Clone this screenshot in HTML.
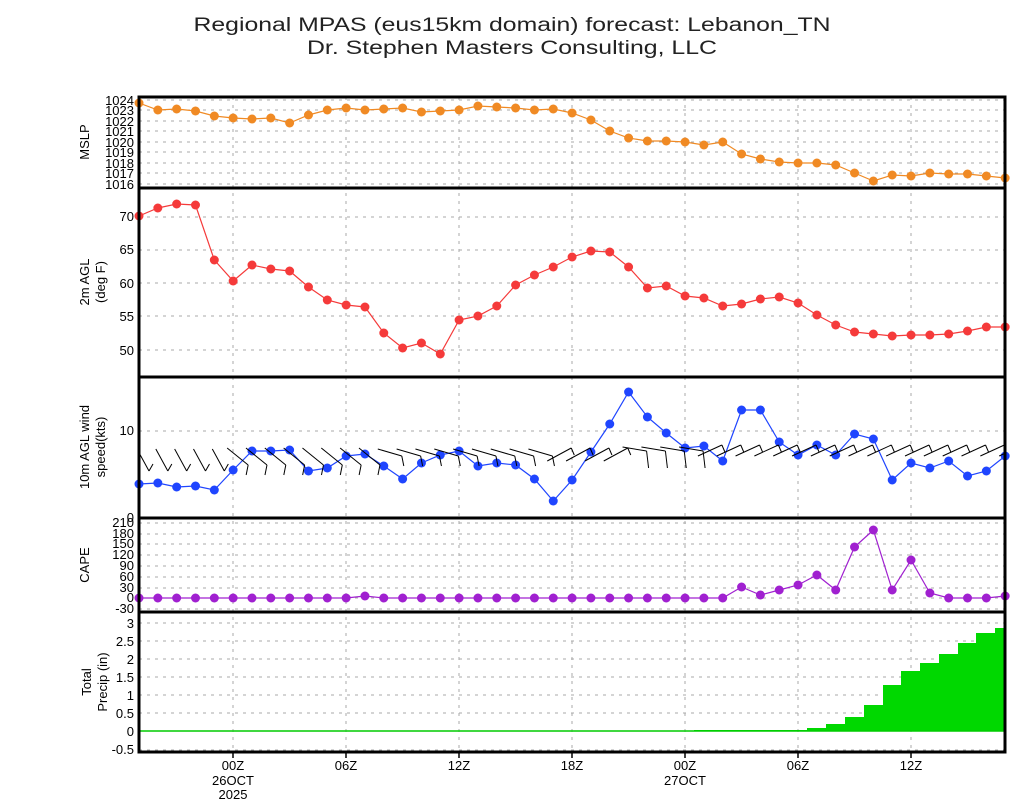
<!DOCTYPE html>
<html><head><meta charset="utf-8"><style>
html,body{margin:0;padding:0;background:#fff;}
svg{display:block;font-family:"Liberation Sans",sans-serif;}
.t{font-size:13px;fill:#000;}
</style></head><body>
<svg id="s" width="1024" height="800" xmlns="http://www.w3.org/2000/svg">
<defs><clipPath id="cp"><rect x="139" y="377" width="866" height="141"/></clipPath></defs>
<rect width="1024" height="800" fill="#fff"/>
<text x="512" y="31" text-anchor="middle" font-size="19" textLength="637" lengthAdjust="spacingAndGlyphs" fill="#222">Regional MPAS (eus15km domain) forecast: Lebanon_TN</text>
<text x="512" y="54" text-anchor="middle" font-size="19" textLength="410" lengthAdjust="spacingAndGlyphs" fill="#222">Dr. Stephen Masters Consulting, LLC</text>
<g id="grid" stroke="#aaa" stroke-dasharray="3,5" stroke-width="1"></g>
<g id="data"></g>
<g id="barbs" clip-path="url(#cp)"></g>
<g fill="none" stroke="#000" stroke-width="3">
<rect x="139" y="97" width="866" height="655"/>
<line x1="139" y1="188" x2="1005" y2="188"/>
<line x1="139" y1="377" x2="1005" y2="377"/>
<line x1="139" y1="518" x2="1005" y2="518"/>
<line x1="139" y1="612" x2="1005" y2="612"/>
</g>
<g class="t" text-anchor="end">
<text x="134" y="105">1024</text><text x="134" y="115">1023</text><text x="134" y="126">1022</text><text x="134" y="136">1021</text><text x="134" y="147">1020</text><text x="134" y="157">1019</text><text x="134" y="168">1018</text><text x="134" y="178">1017</text><text x="134" y="189">1016</text>
<text x="134" y="221">70</text><text x="134" y="254">65</text><text x="134" y="288">60</text><text x="134" y="321">55</text><text x="134" y="355">50</text>
<text x="134" y="435">10</text><text x="134" y="522">0</text>
<text x="134" y="527">210</text><text x="134" y="538">180</text><text x="134" y="548">150</text><text x="134" y="559">120</text><text x="134" y="570">90</text><text x="134" y="581">60</text><text x="134" y="592">30</text><text x="134" y="602">0</text><text x="134" y="613">-30</text>
<text x="134" y="628">3</text><text x="134" y="646">2.5</text><text x="134" y="664">2</text><text x="134" y="682">1.5</text><text x="134" y="700">1</text><text x="134" y="718">0.5</text><text x="134" y="736">0</text><text x="134" y="754">-0.5</text>
</g>
<g class="t" text-anchor="middle" font-size="14">
<text x="233" y="770">00Z</text><text x="233" y="785">26OCT</text><text x="233" y="799">2025</text>
<text x="346" y="770">06Z</text><text x="459" y="770">12Z</text><text x="572" y="770">18Z</text>
<text x="685" y="770">00Z</text><text x="685" y="785">27OCT</text>
<text x="798" y="770">06Z</text><text x="911" y="770">12Z</text>
</g>
<g class="t" text-anchor="middle" font-size="14">
<text transform="translate(89,142) rotate(-90)">MSLP</text>
<text transform="translate(89,282) rotate(-90)">2m AGL</text>
<text transform="translate(105,282) rotate(-90)">(deg F)</text>
<text transform="translate(89,447) rotate(-90)">10m AGL wind</text>
<text transform="translate(105,447) rotate(-90)">speed(kts)</text>
<text transform="translate(89,565) rotate(-90)">CAPE</text>
<text transform="translate(91,682) rotate(-90)">Total</text>
<text transform="translate(107,682) rotate(-90)">Precip (in)</text>
</g>
</svg>
<script>
var NS="http://www.w3.org/2000/svg",g=document.getElementById('grid'),d=document.getElementById('data'),bb=document.getElementById('barbs');
function el(p,t,a){var e=document.createElementNS(NS,t);for(var k in a)e.setAttribute(k,a[k]);p.appendChild(e);return e;}
var hs=[100,110,121,131,142,152,163,173,184,217,250,283,316,350,431,523,534,544,555,566,577,588,598,609,623,641,659,677,695,713,731,750];
hs.forEach(function(y){el(g,'line',{x1:139,x2:1005,y1:y,y2:y});});
[233,346,459,572,685,798,911].forEach(function(x){el(g,'line',{x1:x,x2:x,y1:97,y2:752});el(d,'line',{x1:x,x2:x,y1:752,y2:758,stroke:'#000','stroke-width':1.5});});
function X(i){return 139+18.83*i;}
var pe=[[694,730],[807,728],[826,724],[845,717],[864,705],[883,685],[901,671],[920,663],[939,654],[958,643],[976,633],[995,628],[1005,628]];
var pp='M139,731 L694,731 ';for(var k=0;k<pe.length-1;k++){pp+='L'+pe[k][0]+','+pe[k][1]+' L'+pe[k+1][0]+','+pe[k][1]+' ';}pp+='L1005,731 Z';
el(d,'path',{d:pp,fill:'#00d800'});el(d,'line',{x1:139,x2:1005,y1:731,y2:731,stroke:'#00cc00','stroke-width':1.5});
function series(ys,c){var p=ys.map(function(y,i){return X(i)+','+y;}).join(' ');el(d,'polyline',{points:p,fill:'none',stroke:c,'stroke-width':1.2});ys.forEach(function(y,i){el(d,'circle',{cx:X(i),cy:y,r:4.5,fill:c});});}
for(var i=0;i<47;i++){var x=X(i),a,b,f;
if(i<5){a=[x-2,449];b=[x+10,471];f=[x+14,464];}
else if(i<13){a=[x-6,448];b=[x+15,465];f=[x+13,475];}
else if(i<22){a=[x-6,449];b=[x+18,456];f=[x+20,466];}
else if(i<26){a=[x-6,461];b=[x+18,448];f=[x+21,455];}
else if(i<30){a=[x-6,447];b=[x+18,451];f=[x+20,468];}
else{a=[x-6,456];b=[x+18,445];f=[x+21,452];}
el(bb,'line',{x1:a[0],y1:a[1],x2:b[0],y2:b[1],stroke:'#000','stroke-width':1});
el(bb,'line',{x1:b[0],y1:b[1],x2:f[0],y2:f[1],stroke:'#000','stroke-width':1});}
series([103,110,109,111,116,118,119,118,123,115,110,108,110,109,108,112,111,110,106,107,108,110,109,113,120,131,138,141,141,142,145,142,154,159,162,163,163,165,173,181,175,176,173,174,174,176,178],'#f08a24');
series([216,208,204,205,260,281,265,269,271,287,300,305,307,333,348,343,354,320,316,306,285,275,267,257,251,252,267,288,286,296,298,306,304,299,297,303,315,325,332,334,336,335,335,334,331,327,327],'#f53a3a');
series([484,483,487,486,490,470,451,451,450,471,468,456,454,466,479,463,455,451,466,463,465,479,501,480,452,424,392,417,433,448,446,461,410,410,442,455,445,455,434,439,480,463,468,461,476,471,456],'#1f45ff');
var cp=[];for(var i=0;i<47;i++)cp.push(598);cp[12]=596;
var cv={32:587,33:595,34:590,35:585,36:575,37:590,38:547,39:530,40:590,41:560,42:593,46:596};for(var k in cv)cp[k]=cv[k];
series(cp,'#a020d0');
</script>
</body></html>
